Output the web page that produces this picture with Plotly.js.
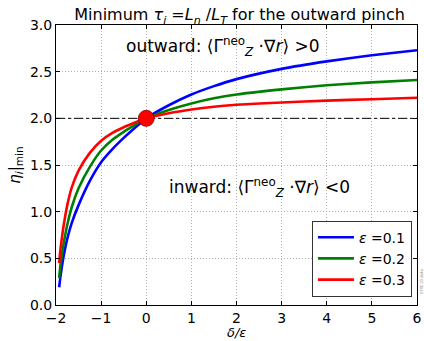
<!DOCTYPE html>
<html>
<head>
<meta charset="utf-8">
<script src="https://cdn.plot.ly/plotly-3.0.1.min.js"></script>
<style>
  html, body { margin: 0; padding: 0; background: #fff; }
  #chart { width: 424px; height: 341px; }
</style>
</head>
<body>
<div id="chart"></div>
<script>
// δ/ε sample positions shared by all three curves
const deltaOverEps = [-1.93, -1.9, -1.85, -1.8, -1.75, -1.65, -1.5, -1.25, -1, -0.75, -0.5, -0.25, 0, 0.5, 1, 1.5, 2, 3, 4, 5, 6];

// minimum η_i for each inverse aspect ratio ε
const etaEps01 = [0.19, 0.31, 0.47, 0.60, 0.71, 0.88, 1.07, 1.33, 1.53, 1.67, 1.79, 1.90, 2.0, 2.14, 2.255, 2.345, 2.42, 2.53, 2.61, 2.675, 2.73];
const etaEps02 = [0.29, 0.43, 0.60, 0.74, 0.86, 1.05, 1.25, 1.48, 1.655, 1.77, 1.855, 1.93, 2.0, 2.09, 2.16, 2.215, 2.255, 2.31, 2.355, 2.385, 2.41];
const etaEps03 = [0.45, 0.60, 0.79, 0.94, 1.07, 1.26, 1.44, 1.63, 1.76, 1.845, 1.905, 1.955, 2.0, 2.055, 2.095, 2.125, 2.145, 2.17, 2.19, 2.205, 2.22];

const seriesLabels = ['0.1', '0.2', '0.3'];
const seriesColors = ['#0000ff', '#008000', '#ff0000'];

// common crossing point and reference level
const crossX = [0];
const crossY = [2.0];
const refLevel = 2.0;

const xTicks = [-2, -1, 0, 1, 2, 3, 4, 5, 6];
const yTicks = [0, 0.5, 1.0, 1.5, 2.0, 2.5, 3.0];

const SERIF = '"Liberation Serif", "DejaVu Serif", serif';
const SANS = '"DejaVu Sans", sans-serif';
const it = s => '<span style="font-family:' + SERIF + '"><i>' + s + '</i></span>';
const rm = s => '<span style="font-family:' + SERIF + '">' + s + '</span>';

const etaSets = [etaEps01, etaEps02, etaEps03];
const traces = etaSets.map((eta, k) => ({
  x: deltaOverEps,
  y: eta,
  type: 'scatter',
  mode: 'lines',
  line: { color: seriesColors[k], width: 2.6, shape: 'spline', smoothing: 0.6 },
  name: it('ε') + ' =' + seriesLabels[k]
}));

traces.push({
  x: [-2, 6],
  y: [refLevel, refLevel],
  type: 'scatter',
  mode: 'lines',
  line: { color: '#000', width: 1, dash: 'dashdot' },
  showlegend: false,
  hoverinfo: 'skip'
});

traces.push({
  x: crossX,
  y: crossY,
  type: 'scatter',
  mode: 'markers',
  marker: { color: '#ff0000', size: 16, line: { color: '#800000', width: 0.8 } },
  showlegend: false
});

const axisCommon = {
  showline: true, linecolor: '#000', linewidth: 1, mirror: 'allticks',
  ticks: 'inside', ticklen: 4, tickcolor: '#000',
  showgrid: true, gridcolor: '#a0a0a0', gridwidth: 0.8, griddash: '1px,2px',
  zeroline: false,
  tickfont: { family: SANS, size: 14, color: '#000' }
};

const fluxExpr = rm('⟨Γ<sup>neo</sup><sub><i>Z</i></sub> ·∇') + it('r') + rm('⟩');

const layout = {
  width: 424, height: 341,
  margin: { l: 56, r: 7, t: 25, b: 36 },
  paper_bgcolor: '#fff', plot_bgcolor: '#fff',
  font: { family: SANS, color: '#000' },
  title: {
    text: 'Minimum ' + it('τ<sub>i</sub>') + rm(' =') + it('L<sub>n</sub>') + rm(' /') + it('L<sub>T</sub>') + ' for the outward pinch',
    font: { family: SANS, size: 16, color: '#000' },
    x: 0.565, xanchor: 'center', y: 0.957, yanchor: 'middle'
  },
  xaxis: Object.assign({}, axisCommon, {
    range: [-2, 6], tickvals: xTicks
  }),
  yaxis: Object.assign({}, axisCommon, {
    range: [0, 3], tickvals: yTicks, tickformat: '.1f',
    title: { text: it('η<sub>i</sub>') + rm('|<sub>min</sub>'), font: { size: 15 }, standoff: 5 }
  }),
  showlegend: true,
  legend: {
    x: 0.986, xanchor: 'right', y: 0.03, yanchor: 'bottom',
    bgcolor: '#fff', bordercolor: '#333', borderwidth: 1,
    font: { family: SANS, size: 14, color: '#000' },
    itemwidth: 36, tracegroupgap: 0
  },
  annotations: [
    {
      // x-axis label, placed below the tick labels
      x: 0.5, y: 0, xref: 'paper', yref: 'paper', xanchor: 'center', yanchor: 'top',
      yshift: -19, borderpad: 0, showarrow: false,
      text: it('δ/ε'), font: { family: SANS, size: 13, color: '#000' }
    },
    {
      x: 1.68, y: 2.77, xref: 'x', yref: 'y', showarrow: false,
      text: 'outward: ' + fluxExpr + rm(' >0'),
      font: { family: SANS, size: 17, color: '#000' }
    },
    {
      x: 2.5, y: 1.26, xref: 'x', yref: 'y', showarrow: false,
      text: 'inward: ' + fluxExpr + rm(' <0'),
      font: { family: SANS, size: 17, color: '#000' }
    },
    {
      x: 1.0, y: 0.03, xref: 'paper', yref: 'paper', xanchor: 'left', yanchor: 'bottom',
      xshift: 0, showarrow: false, textangle: -90,
      text: 'EFTC19 data', font: { family: SANS, size: 4, color: '#888' }
    }
  ]
};

Plotly.newPlot('chart', traces, layout, { displayModeBar: false, staticPlot: true });
</script>
</body>
</html>
